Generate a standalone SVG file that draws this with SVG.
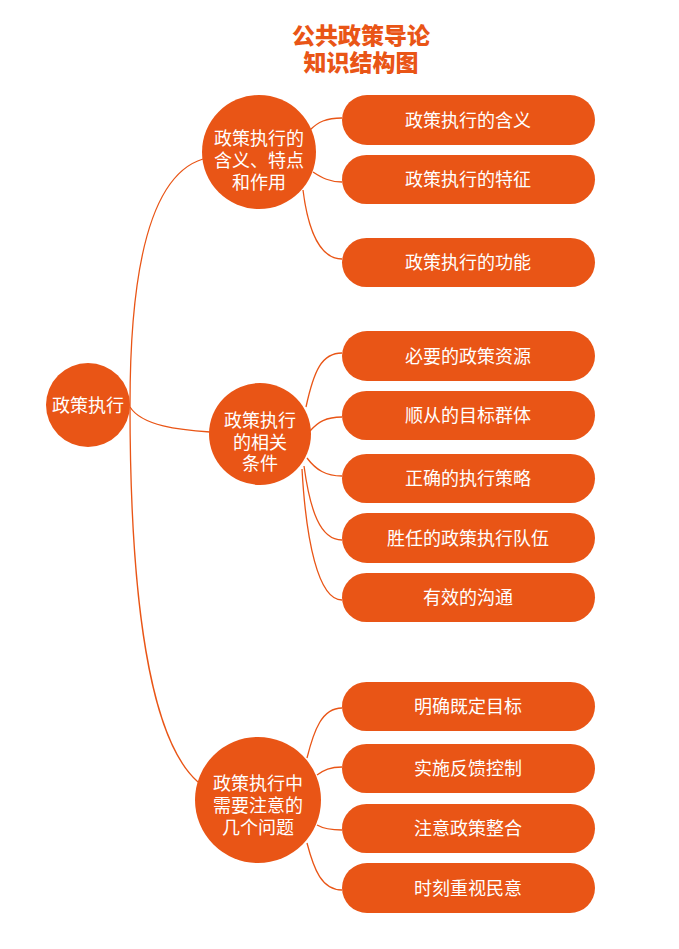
<svg xmlns="http://www.w3.org/2000/svg" width="679" height="949" viewBox="0 0 679 949">
<style>
.bg{fill:#ffffff}
.node{fill:#E95516}
.t{fill:#ffffff;font-family:"Noto Sans CJK SC","Liberation Sans",sans-serif;font-size:18px;text-anchor:middle;dominant-baseline:central}
.title{fill:#E95516;font-family:"Noto Sans CJK SC","Liberation Sans",sans-serif;font-size:23px;font-weight:900;text-anchor:middle;dominant-baseline:central}
.c{fill:none;stroke:#E95516;stroke-width:1.3}
</style>
<rect class="bg" x="0" y="0" width="679" height="949"/>
<g id="title">
<text class="title" x="361" y="34">公共政策导论</text>
<text class="title" x="361" y="61">知识结构图</text>
</g>
<g id="connectors">
<path class="c" d="M130,405 C130,240 160,172 203,159"/>
<path class="c" d="M130,407 C142,426 180,430 210,432"/>
<path class="c" d="M130,405 C130,600 150,740 198,782"/>
<path class="c" d="M310,130 C318,122 326,118 342,118"/>
<path class="c" d="M313,172 C322,178 330,182 342,182"/>
<path class="c" d="M303,190 C308,230 320,259 342,259"/>
<path class="c" d="M306,407 C314,370 322,353 342,353"/>
<path class="c" d="M310,431 C318,422 326,417 342,417"/>
<path class="c" d="M307,458 C316,470 326,476 342,476"/>
<path class="c" d="M304,466 C310,510 320,540 342,540"/>
<path class="c" d="M302,469 C306,540 318,600 342,600"/>
<path class="c" d="M307,758 C314,730 322,708 342,708"/>
<path class="c" d="M317,775 C324,770 330,767 342,767"/>
<path class="c" d="M317,825 C324,829 330,830 342,830"/>
<path class="c" d="M307,843 C314,870 322,890 342,890"/>
</g>
<g id="root">
<circle class="node" cx="88" cy="405" r="42"/>
<text class="t" x="88" y="403.5">政策执行</text>
</g>
<g id="n1">
<circle class="node" cx="259" cy="152" r="57"/>
<text class="t" x="259" y="136.5">政策执行的</text>
<text class="t" x="259" y="158.5">含义、特点</text>
<text class="t" x="259" y="180.5">和作用</text>
</g>
<g id="n2">
<circle class="node" cx="260" cy="434" r="51"/>
<text class="t" x="260" y="418.5">政策执行</text>
<text class="t" x="260" y="440.5">的相关</text>
<text class="t" x="260" y="461.5">条件</text>
</g>
<g id="n3">
<circle class="node" cx="258" cy="800" r="63"/>
<text class="t" x="258" y="781.5">政策执行中</text>
<text class="t" x="258" y="803.5">需要注意的</text>
<text class="t" x="258" y="825.5">几个问题</text>
</g>
<g id="n1a"><rect class="node" x="342" y="95" width="253" height="50" rx="25"/><text class="t" x="468" y="118.5">政策执行的含义</text></g>
<g id="n1b"><rect class="node" x="342" y="155" width="253" height="49" rx="24.5"/><text class="t" x="468" y="177.5">政策执行的特征</text></g>
<g id="n1c"><rect class="node" x="342" y="238" width="253" height="49" rx="24.5"/><text class="t" x="468" y="260.5">政策执行的功能</text></g>
<g id="n2a"><rect class="node" x="342" y="331" width="253" height="50" rx="25"/><text class="t" x="468" y="354.5">必要的政策资源</text></g>
<g id="n2b"><rect class="node" x="342" y="391" width="253" height="49" rx="24.5"/><text class="t" x="468" y="413.5">顺从的目标群体</text></g>
<g id="n2c"><rect class="node" x="342" y="454" width="253" height="49" rx="24.5"/><text class="t" x="468" y="476.5">正确的执行策略</text></g>
<g id="n2d"><rect class="node" x="342" y="513" width="253" height="50" rx="25"/><text class="t" x="468" y="536.5">胜任的政策执行队伍</text></g>
<g id="n2e"><rect class="node" x="342" y="573" width="253" height="49" rx="24.5"/><text class="t" x="468" y="595.5">有效的沟通</text></g>
<g id="n3a"><rect class="node" x="342" y="682" width="253" height="49" rx="24.5"/><text class="t" x="468" y="704.5">明确既定目标</text></g>
<g id="n3b"><rect class="node" x="342" y="744" width="253" height="49" rx="24.5"/><text class="t" x="468" y="766.5">实施反馈控制</text></g>
<g id="n3c"><rect class="node" x="342" y="804" width="253" height="49" rx="24.5"/><text class="t" x="468" y="826.5">注意政策整合</text></g>
<g id="n3d"><rect class="node" x="342" y="863" width="253" height="50" rx="25"/><text class="t" x="468" y="886.5">时刻重视民意</text></g>
</svg>
